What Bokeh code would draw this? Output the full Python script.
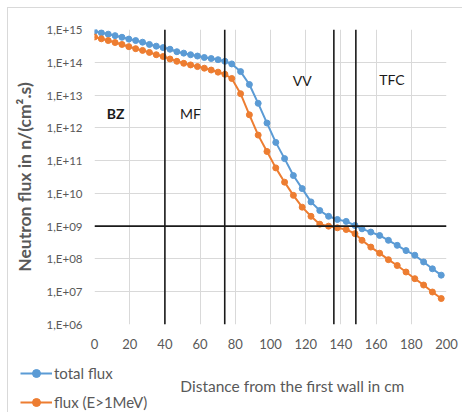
from bokeh.plotting import figure
from bokeh.layouts import column
from bokeh.models import (ColumnDataSource, Span, Label, Legend, LegendItem,
                          FixedTicker, CustomJSTickFormatter, Range1d)
from bokeh.embed import file_html
from bokeh.resources import INLINE

# ---- data ----
distance_cm = [0, 3.9, 7.8, 11.7, 15.6, 19.5, 23.4, 27.3, 31.2, 35.1, 39, 42.9, 46.8,
               50.7, 54.6, 58.5, 62.4, 66.3, 70.2, 74.1, 78, 83, 88, 93, 98, 103, 108,
               113, 118, 123, 128, 133, 138, 143, 148, 152, 157, 162, 167, 172, 177,
               182, 187, 192, 197]
total_flux = [8.7e14, 7.9e14, 7.2e14, 6.5e14, 5.8e14, 5.1e14, 4.6e14, 4.1e14, 3.5e14,
              3.1e14, 2.8e14, 2.5e14, 2.1e14, 1.9e14, 1.7e14, 1.55e14, 1.4e14, 1.3e14,
              1.2e14, 1.07e14, 8.9e13, 5.2e13, 2.1e13, 5.6e12, 1.4e12, 3.6e11, 1.15e11,
              3.5e10, 1.4e10, 5.5e9, 3.0e9, 2.0e9, 1.6e9, 1.4e9, 1.05e9, 8.3e8, 6.6e8,
              5.2e8, 3.7e8, 2.6e8, 1.8e8, 1.3e8, 8.1e7, 5.0e7, 3.2e7]
fast_flux = [5.9e14, 5.2e14, 4.6e14, 4.0e14, 3.5e14, 3.0e14, 2.6e14, 2.3e14, 2.0e14,
             1.7e14, 1.5e14, 1.26e14, 1.07e14, 9.3e13, 8.3e13, 7.4e13, 6.6e13, 5.8e13,
             5.0e13, 4.3e13, 3.2e13, 1.1e13, 2.5e12, 6.0e11, 1.9e11, 6.0e10, 2.2e10,
             8.7e9, 3.8e9, 2.0e9, 1.15e9, 1.0e9, 8.9e8, 7.9e8, 5.9e8, 3.7e8, 2.3e8,
             1.5e8, 9.5e7, 6.3e7, 4.0e7, 2.5e7, 1.6e7, 9.8e6, 6.2e6]
series_names = ["total flux", "flux (E>1MeV)"]
boundaries_cm = [40, 74, 136, 148.5]
reference_flux = 1e9
zone_names = ["BZ", "MF", "VV", "TFC"]
zone_x = [12, 54.5, 118, 169]
zone_y = [2.8e12, 2.8e12, 2.8e13, 2.9e13]
x_ticks = [0, 20, 40, 60, 80, 100, 120, 140, 160, 180, 200]
y_ticks = [1e6, 1e7, 1e8, 1e9, 1e10, 1e11, 1e12, 1e13, 1e14, 1e15]

FONT = "Lato"
BLUE = "#5B9BD5"
ORANGE = "#ED7D31"
GRAY = "#595959"
W = 462

p = figure(width=W, height=360, y_axis_type="log", output_backend="svg",
           toolbar_location=None, x_range=Range1d(0, 200), y_range=Range1d(1e6, 1e15),
           min_border_left=94, min_border_right=16, min_border_top=29, min_border_bottom=36)
p.frame_align = False
p.outline_line_color = None
p.background_fill_color = "white"
p.border_fill_color = None

# grid
p.xgrid.ticker = FixedTicker(ticks=x_ticks)
p.ygrid.ticker = FixedTicker(ticks=y_ticks)
p.xgrid.grid_line_color = "#d9d9d9"
p.ygrid.grid_line_color = "#d9d9d9"
p.xgrid.minor_grid_line_color = None
p.ygrid.minor_grid_line_color = None

# axes
p.xaxis.ticker = FixedTicker(ticks=x_ticks)
p.yaxis.ticker = FixedTicker(ticks=y_ticks)
p.yaxis.formatter = CustomJSTickFormatter(code="""
    const e = Math.round(Math.log10(tick));
    return '1,E+' + (e < 10 ? '0' : '') + e;
""")
for ax in (p.xaxis, p.yaxis):
    ax.axis_line_color = None
    ax.major_tick_line_color = None
    ax.minor_tick_line_color = None
    ax.major_tick_out = 0
    ax.major_label_text_font = FONT
    ax.major_label_text_color = GRAY
p.xaxis.major_label_text_font_size = "13px"
p.yaxis.major_label_text_font_size = "11.5px"
p.xaxis.major_label_standoff = 14
p.yaxis.major_label_standoff = 12
p.yaxis.axis_label = "Neutron flux in n/(cm\u00b2.s)"
p.yaxis.axis_label_text_font = FONT
p.yaxis.axis_label_text_font_size = "17.5px"
p.yaxis.axis_label_text_font_style = "bold"
p.yaxis.axis_label_text_color = GRAY
p.yaxis.axis_label_standoff = 9

# boundaries
for b in boundaries_cm:
    p.add_layout(Span(location=b, dimension="height", line_color="#1a1a1a", line_width=1.6))
p.add_layout(Span(location=reference_flux, dimension="width", line_color="#1a1a1a", line_width=1.6))

# series
src_t = ColumnDataSource(dict(x=distance_cm, y=total_flux))
src_f = ColumnDataSource(dict(x=distance_cm, y=fast_flux))
p.line("x", "y", source=src_t, line_color=BLUE, line_width=2)
p.scatter("x", "y", source=src_t, marker="circle", size=6, fill_color=BLUE, line_color=BLUE)
p.line("x", "y", source=src_f, line_color=ORANGE, line_width=2)
p.scatter("x", "y", source=src_f, marker="circle", size=6, fill_color=ORANGE, line_color=ORANGE)

# zone labels
for name, zx, zy in zip(zone_names, zone_x, zone_y):
    p.add_layout(Label(x=zx, y=zy, text=name, text_font=FONT, text_font_size="14px",
                       text_color="#1a1a1a", text_align="center", text_baseline="middle",
                       text_font_style="bold" if name == "BZ" else "normal"))

# ---- strip below the chart: legend and x axis title ----
H2 = 52
q = figure(width=W, height=H2, output_backend="svg", toolbar_location=None,
           x_range=Range1d(0, W), y_range=Range1d(H2, 0),
           x_axis_location=None, y_axis_location=None,
           min_border_left=0, min_border_right=0, min_border_top=0, min_border_bottom=0)
q.frame_align = False
q.grid.visible = False
q.outline_line_color = None
q.background_fill_color = None
q.border_fill_color = None

nan = float("nan")
key_t = ColumnDataSource(dict(x=[nan], y=[nan]))
key_f = ColumnDataSource(dict(x=[nan], y=[nan]))
kl1 = q.line("x", "y", source=key_t, line_color=BLUE, line_width=2)
ks1 = q.scatter("x", "y", source=key_t, marker="circle", size=6, fill_color=BLUE, line_color=BLUE)
kl2 = q.line("x", "y", source=key_f, line_color=ORANGE, line_width=2)
ks2 = q.scatter("x", "y", source=key_f, marker="circle", size=6, fill_color=ORANGE, line_color=ORANGE)

legend = Legend(items=[LegendItem(label=series_names[0], renderers=[kl1, ks1]),
                       LegendItem(label=series_names[1], renderers=[kl2, ks2])],
                location=(20, 0), orientation="vertical")
legend.border_line_color = None
legend.background_fill_alpha = 0
legend.padding = 0
legend.margin = 0
legend.spacing = 9
legend.glyph_width = 32
legend.glyph_height = 20
legend.label_height = 20
legend.label_standoff = 2
legend.label_text_font = FONT
legend.label_text_font_size = "15px"
legend.label_text_color = GRAY
q.add_layout(legend)

q.add_layout(Label(x=292, y=25, text="Distance from the first wall in cm",
                   text_font=FONT, text_font_size="15.5px", text_color=GRAY,
                   text_align="center", text_baseline="middle"))

page = column(p, q, spacing=0)
page.styles = {"background": "linear-gradient(#d9d9d9, #d9d9d9) 7px 7px / 455px 1px no-repeat, "
                             "linear-gradient(#d9d9d9, #d9d9d9) 7px 7px / 1px 405px no-repeat, #ffffff"}

open("out.html", "w").write(file_html(page, INLINE))
